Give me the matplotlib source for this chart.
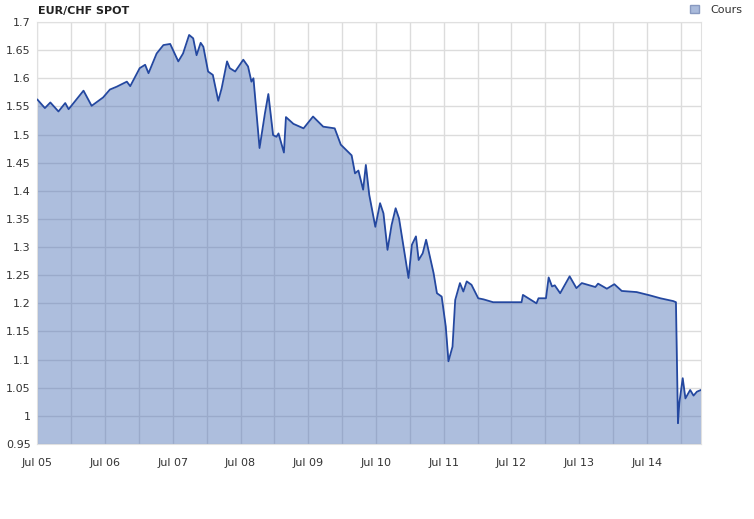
import matplotlib
matplotlib.use("Agg")
import matplotlib.pyplot as plt
from matplotlib.patches import Patch
import numpy as np

# EUR/CHF spot, decimal years
years = [
    2005.50, 2005.61, 2005.69, 2005.81, 2005.91, 2005.96, 2006.18, 2006.30,
    2006.47, 2006.57, 2006.67, 2006.82, 2006.87, 2007.01, 2007.09, 2007.14,
    2007.26, 2007.36, 2007.46, 2007.58, 2007.65, 2007.74, 2007.80, 2007.85,
    2007.91, 2007.95, 2008.02, 2008.09, 2008.17, 2008.22, 2008.30, 2008.34,
    2008.42, 2008.54, 2008.61, 2008.66, 2008.69, 2008.78, 2008.86, 2008.91,
    2008.98, 2009.03, 2009.06, 2009.14, 2009.17, 2009.28, 2009.43, 2009.57,
    2009.72, 2009.89, 2009.98, 2010.14, 2010.19, 2010.24, 2010.31, 2010.35,
    2010.40, 2010.49, 2010.56, 2010.61, 2010.67, 2010.73, 2010.79, 2010.84,
    2010.98, 2011.03, 2011.09, 2011.13, 2011.19, 2011.24, 2011.35, 2011.40,
    2011.47, 2011.53, 2011.57, 2011.63, 2011.67, 2011.74, 2011.79, 2011.84,
    2011.91, 2012.01, 2012.09, 2012.23, 2012.65, 2012.67, 2012.87, 2012.90,
    2013.01, 2013.05, 2013.10, 2013.14, 2013.22, 2013.36, 2013.46, 2013.54,
    2013.74, 2013.78, 2013.91, 2014.02, 2014.13, 2014.35, 2014.55, 2014.70,
    2014.89, 2014.93, 2014.96, 2014.98, 2015.03, 2015.07, 2015.14, 2015.19,
    2015.24, 2015.30,
]
cours = [
    1.562, 1.547, 1.557, 1.541, 1.556, 1.545, 1.578, 1.551,
    1.566, 1.580, 1.585, 1.594, 1.586, 1.618, 1.624, 1.609,
    1.644, 1.659, 1.661, 1.630, 1.644, 1.677, 1.671, 1.641,
    1.663, 1.656, 1.612, 1.606, 1.560, 1.582, 1.630, 1.618,
    1.612, 1.633, 1.621, 1.594, 1.600, 1.476, 1.538, 1.572,
    1.499, 1.496, 1.502, 1.468, 1.531, 1.519, 1.511, 1.532,
    1.514, 1.511, 1.482, 1.463, 1.431, 1.436, 1.402, 1.446,
    1.393, 1.336, 1.378, 1.360, 1.295, 1.339, 1.369, 1.351,
    1.245, 1.304, 1.319, 1.277, 1.289, 1.313, 1.254, 1.218,
    1.212, 1.159, 1.097, 1.123, 1.206, 1.236, 1.221, 1.239,
    1.233, 1.209, 1.207, 1.202, 1.202, 1.215, 1.200, 1.209,
    1.209, 1.246, 1.230, 1.232, 1.218, 1.248, 1.227, 1.236,
    1.229, 1.235, 1.226, 1.234, 1.222, 1.220, 1.214, 1.209,
    1.204, 1.202, 0.987, 1.023, 1.067, 1.031, 1.046, 1.036,
    1.043, 1.046,
]

x_ticks = [2005.5 + k for k in range(10)]
x_labels = ["Jul 05", "Jul 06", "Jul 07", "Jul 08", "Jul 09",
            "Jul 10", "Jul 11", "Jul 12", "Jul 13", "Jul 14"]
y_ticks = [0.95, 1.0, 1.05, 1.1, 1.15, 1.2, 1.25, 1.3, 1.35, 1.4,
           1.45, 1.5, 1.55, 1.6, 1.65, 1.7]

line_col = "#2448a0"
fill_col = "#4a6fb5"

fig = plt.figure(figsize=(7.54, 5.19), dpi=100)
ax = fig.add_axes([0.0497, 0.1445, 0.880, 0.8131])

ax.fill_between(years, cours, 0.95, color=fill_col, alpha=0.45, linewidth=0, zorder=2)
ax.plot(years, cours, color=line_col, linewidth=1.3, zorder=3)

ax.set_xlim(2005.5, 2015.30)
ax.set_ylim(0.95, 1.7)
ax.set_xticks(x_ticks)
ax.set_xticklabels(x_labels)
ax.set_xticks(np.arange(2006.0, 2015.3, 1.0), minor=True)
ax.set_yticks(y_ticks)
ax.set_yticklabels(["%g" % v for v in y_ticks])

ax.grid(True, which="both", color="#dcdcdc", linewidth=1.0, zorder=1)
ax.set_axisbelow(True)
ax.tick_params(which="both", length=0, labelsize=8, colors="#333333")
ax.tick_params(axis="x", pad=10)
ax.tick_params(axis="y", pad=5)
for s in ax.spines.values():
    s.set_color("#e0e0e0")

fig.text(0.05, 0.978, "EUR/CHF SPOT", fontsize=8, fontweight="bold",
         color="#222222", va="center", ha="left")
fig.legend(handles=[Patch(facecolor="#a9badb", edgecolor="#8899c0", label="Cours")],
           loc="upper right", bbox_to_anchor=(0.998, 1.01), frameon=False,
           fontsize=8, handlelength=0.8, handleheight=0.8, handletextpad=1.0,
           labelcolor="#333333")

fig.savefig("out.png", dpi=100)
